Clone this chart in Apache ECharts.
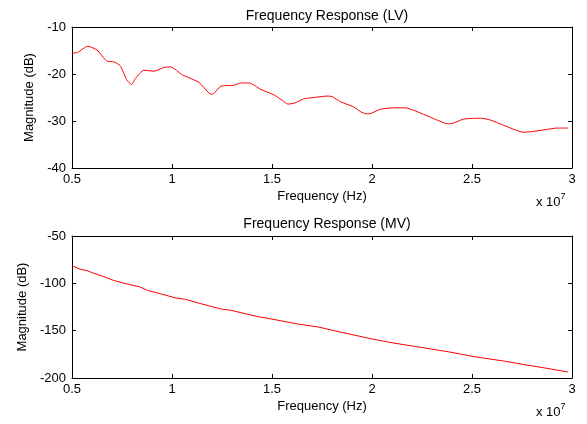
<!DOCTYPE html>
<html>
<head>
<meta charset="utf-8">
<script src="https://cdn.jsdelivr.net/npm/echarts@6/dist/echarts.min.js"></script>
<style>
  html, body { margin: 0; padding: 0; background: #fff; }
  #main { width: 587px; height: 424px; }
</style>
</head>
<body>
<div id="main"></div>
<script>
// frequency in units of 1e7 Hz, magnitude in dB
const freqLV = [0.5, 0.528, 0.579, 0.625, 0.676, 0.709, 0.742, 0.773, 0.798, 0.818, 0.86, 0.91, 0.96, 0.993,
  1.052, 1.085, 1.135, 1.186, 1.202, 1.244, 1.311, 1.344, 1.386, 1.445, 1.512, 1.554, 1.579, 1.612,
  1.658, 1.708, 1.775, 1.8, 1.842, 1.908, 1.95, 1.983, 2.042, 2.108, 2.167, 2.225, 2.292, 2.367, 2.392,
  2.458, 2.542, 2.592, 2.675, 2.758, 2.792, 2.858, 2.925, 2.98];
const magLV = [-15.6, -15.4, -14.1, -14.9, -17.3, -17.4, -18.3, -21.2, -22.2, -20.9, -19.2, -19.4, -18.6, -18.5,
  -20.2, -20.8, -21.8, -24.1, -24.3, -22.6, -22.4, -21.9, -21.9, -23.3, -24.5, -25.7, -26.4, -26.2,
  -25.3, -25.0, -24.7, -24.8, -25.9, -27.0, -28.2, -28.5, -27.5, -27.2, -27.2, -28.0, -29.2, -30.5, -30.6,
  -29.6, -29.4, -29.8, -31.2, -32.4, -32.3, -31.9, -31.5, -31.5];

const freqMV = [0.5, 0.54, 0.574, 0.608, 0.658, 0.709, 0.759, 0.843, 0.877, 0.944, 1.02, 1.062, 1.146, 1.247,
  1.298, 1.365, 1.433, 1.488, 1.638, 1.731, 1.825, 1.994, 2.106, 2.256, 2.387, 2.5, 2.668, 2.762, 2.856, 2.981];
const magMV = [-81.2, -85.1, -86.5, -89.3, -92.8, -97.0, -99.8, -104.0, -107.5, -111.1, -115.6, -116.7, -121.6, -127.2,
  -128.6, -132.1, -135.3, -137.3, -143.3, -146.1, -150.7, -158.5, -163.0, -168.0, -172.5, -177.1, -182.4, -185.9, -189.1, -193.7];

const titles = ['Frequency Response (LV)', 'Frequency Response (MV)'];
const xName = 'Frequency (Hz)';
const yName = 'Magnitude (dB)';

const font = 'Liberation Sans, Arial, sans-serif';
const black = '#000';

function pairs(xs, ys) {
  return xs.map((x, i) => [x, ys[i]]);
}

// bottom axis with labels, plus a bare top axis for the box ticks
function xAxes(grid, nameGap) {
  const base = {
    type: 'value', gridIndex: grid, min: 0.5, max: 3, interval: 0.5,
    axisLine: { show: true, lineStyle: { color: black, width: 1 } },
    axisTick: { show: true, inside: true, length: 4, lineStyle: { color: black } },
    splitLine: { show: false }
  };
  return [
    Object.assign({}, base, {
      position: 'bottom',
      name: xName, nameLocation: 'middle', nameGap: nameGap,
      nameTextStyle: { color: black, fontSize: 13, fontFamily: font },
      axisLabel: { color: black, fontSize: 13, fontFamily: font, margin: 5 }
    }),
    Object.assign({}, base, { position: 'top', axisLabel: { show: false } })
  ];
}

function yAxes(grid, min, max, step, nameGap) {
  const base = {
    type: 'value', gridIndex: grid, min: min, max: max, interval: step,
    axisLine: { show: true, lineStyle: { color: black, width: 1 } },
    axisTick: { show: true, inside: true, length: 4, lineStyle: { color: black } },
    splitLine: { show: false }
  };
  return [
    Object.assign({}, base, {
      position: 'left',
      name: yName, nameLocation: 'middle', nameGap: nameGap,
      nameTextStyle: { color: black, fontSize: 13, fontFamily: font },
      axisLabel: { color: black, fontSize: 13, fontFamily: font, margin: 6 }
    }),
    Object.assign({}, base, { position: 'right', axisLabel: { show: false } })
  ];
}

// "x 10^7" exponent note under each x axis
function expNote(top) {
  return {
    type: 'text', left: 536, top: top,
    style: { text: '{a|x 10}{b|7}', rich: {
      a: { fontSize: 13, fontFamily: font, fill: black, padding: [4, 0, 0, 0] },
      b: { fontSize: 9, fontFamily: font, fill: black, verticalAlign: 'top' } } }
  };
}

const chart = echarts.init(document.getElementById('main'), null, { renderer: 'canvas' });

chart.setOption({
  backgroundColor: '#fff',
  animation: false,
  title: [
    { text: titles[0], left: 322, top: 4, textAlign: 'center',
      textStyle: { color: black, fontSize: 14, fontWeight: 'normal', fontFamily: font } },
    { text: titles[1], left: 322, top: 212, textAlign: 'center',
      textStyle: { color: black, fontSize: 14, fontWeight: 'normal', fontFamily: font } }
  ],
  graphic: [expNote(192), expNote(402)],
  grid: [
    { left: 72, top: 27, width: 500, height: 141 },
    { left: 72, top: 236, width: 500, height: 142 }
  ],
  xAxis: xAxes(0, 22).concat(xAxes(1, 22)),
  yAxis: yAxes(0, -40, -10, 10, 36).concat(yAxes(1, -200, -50, 50, 43)),
  series: [
    { type: 'line', xAxisIndex: 0, yAxisIndex: 0, data: pairs(freqLV, magLV),
      showSymbol: false, smooth: 0.2, lineStyle: { color: '#ff0000', width: 1 } },
    { type: 'line', xAxisIndex: 2, yAxisIndex: 2, data: pairs(freqMV, magMV),
      showSymbol: false, lineStyle: { color: '#ff0000', width: 1 } }
  ]
});
</script>
</body>
</html>
